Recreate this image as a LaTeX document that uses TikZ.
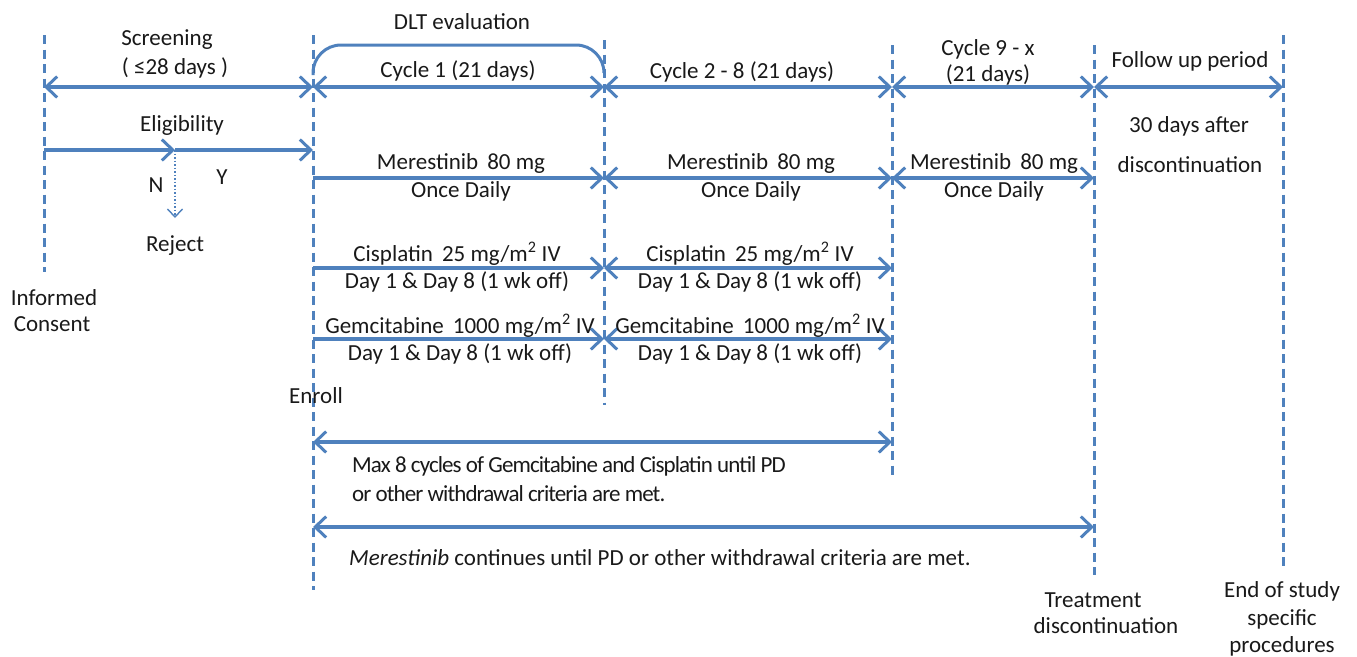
\documentclass[tikz,border=0pt]{standalone}
\usepackage{fontspec}
\setmainfont{Carlito}
\newfontfamily\tightfont[LetterSpace=-4]{Carlito}
\usetikzlibrary{arrows.meta}
\definecolor{ob}{RGB}{79,129,189}
\definecolor{tx}{RGB}{25,25,25}
\tikzset{
  vline/.style={ob,line width=3pt,dash pattern=on 9pt off 5.5pt},
  arr/.style={ob,line width=3.2pt,-{Straight Barb[length=11pt,width=21pt,line width=3pt]}},
  darr/.style={ob,line width=3.2pt,{Straight Barb[length=11pt,width=21pt,line width=3pt]}-{Straight Barb[length=11pt,width=21pt,line width=3pt]}},
  lbl/.style={tx,font=\fontsize{23}{27}\selectfont,inner sep=0pt},
  lbls/.style={tx,font=\tightfont\fontsize{23}{27}\selectfont,inner sep=0pt},
}
\begin{document}
\begin{tikzpicture}[x=1pt,y=-1pt]
\useasboundingbox (0,0) rectangle (1357,656);
% vertical dashed lines
\coordinate (a1) at (44,35);   \coordinate (a2) at (44,272);
\coordinate (b1) at (313,35);  \coordinate (b2) at (313,590);
\coordinate (c1) at (604,40);  \coordinate (c2) at (604,405);
\coordinate (d1) at (892,45);  \coordinate (d2) at (892,476);
\coordinate (e1) at (1094,45); \coordinate (e2) at (1094,575);
\coordinate (f1) at (1283,35); \coordinate (f2) at (1283,570);
\foreach \p in {a,b,c,d,e,f} \draw[vline] (\p1) -- (\p2);
% row coordinates
\foreach \n/\x in {a/44,b/313,c/604,d/892,e/1094,f/1283}{
  \coordinate (\n87) at (\x,87);
  \coordinate (\n150) at (\x,150);
  \coordinate (\n178) at (\x,178);
  \coordinate (\n268) at (\x,268);
  \coordinate (\n339) at (\x,339);
  \coordinate (\n442) at (\x,442);
  \coordinate (\n527) at (\x,527);
}
% top arrows
\draw[darr] (a87) -- (b87);
\draw[darr] (b87) -- (c87);
\draw[darr] (c87) -- (d87);
\draw[darr] (d87) -- (e87);
\draw[darr] (e87) -- (f87);
% DLT bracket
\draw[ob,line width=3pt,rounded corners=28pt] (313,75) -- (313,45) -- (604,45) -- (604,72);
\node[lbl] (dlt) at (462,22) {DLT evaluation};
% eligibility
\coordinate (mid) at (175,150);
\coordinate (rej) at (175,218);
\draw[arr] (a150) -- (mid);
\draw[arr] (mid) -- (b150);
\draw[ob,line width=1.5pt,dotted,-{Straight Barb[length=8pt,width=15pt,line width=1.4pt]}] (mid) -- (rej);
% drug rows
\draw[arr] (b178) -- (c178);
\draw[darr] (c178) -- (d178);
\draw[darr] (d178) -- (e178);
\draw[arr] (b268) -- (c268);
\draw[darr] (c268) -- (d268);
\draw[arr] (b339) -- (c339);
\draw[darr] (c339) -- (d339);
\draw[darr] (b442) -- (d442);
\draw[darr] (b527) -- (e527);
% labels
\node[lbl] (scr) at (167,40) {Screening};
\node[lbl] (scr2) at (175,68) {( ≤28 days )};
\node[lbl] (elig) at (182,125) {Eligibility};
\node[lbl] (n) at (156,185) {N};
\node[lbl] (y) at (222,177) {Y};
\node[lbl] (rejt) at (175,246) {Reject};
\node[lbl] (inf) at (54,298) {Informed};
\node[lbl] (con) at (52,324) {Consent};
\node[lbl] (cy1) at (458,71) {Cycle 1 (21 days)};
\node[lbl] (cy2) at (742,72) {Cycle 2 - 8 (21 days)};
\node[lbl] (cy9) at (988,49) {Cycle 9 - x};
\node[lbl] (cy9b) at (988,75) {(21 days)};
\node[lbl] (fu) at (1190,61) {Follow up period};
\node[lbl] (fu2) at (1189,126) {30 days after};
\node[lbl] (fu3) at (1190,165) {discontinuation};
\foreach \x/\m in {461/m1,751/m2,994/m3}{
  \node[lbl] (\m a) at (\x,163) {Merestinib\, 80 mg};
  \node[lbl] (\m b) at (\x,191) {Once Daily};
}
\foreach \x/\m in {457/c1,750/c2}{
  \node[lbl] (\m a) at (\x,254) {Cisplatin\, 25 mg/m\textsuperscript{2} IV};
  \node[lbl] (\m b) at (\x,282) {Day 1 \& Day 8 (1 wk off)};
}
\foreach \x/\m in {460/g1,750/g2}{
  \node[lbl] (\m a) at (\x,326) {Gemcitabine\, 1000 mg/m\textsuperscript{2} IV};
  \node[lbl] (\m b) at (\x,354) {Day 1 \& Day 8 (1 wk off)};
}
\node[lbl] (enr) at (316,396) {Enroll};
\node[lbls,anchor=west] (max1) at (352,466) {Max 8 cycles of Gemcitabine and Cisplatin until PD};
\node[lbls,anchor=west] (max2) at (352,494) {or other withdrawal criteria are met.};
\node[lbl,anchor=west] (mc) at (349,558) {\textit{Merestinib} continues until PD or other withdrawal criteria are met.};
\node[lbl] (td1) at (1093,600) {Treatment};
\node[lbl] (td2) at (1106,626) {discontinuation};
\node[lbl] (es1) at (1282,591) {End of study};
\node[lbl] (es2) at (1282,619) {specific};
\node[lbl] (es3) at (1282,646) {procedures};
\end{tikzpicture}
\end{document}
